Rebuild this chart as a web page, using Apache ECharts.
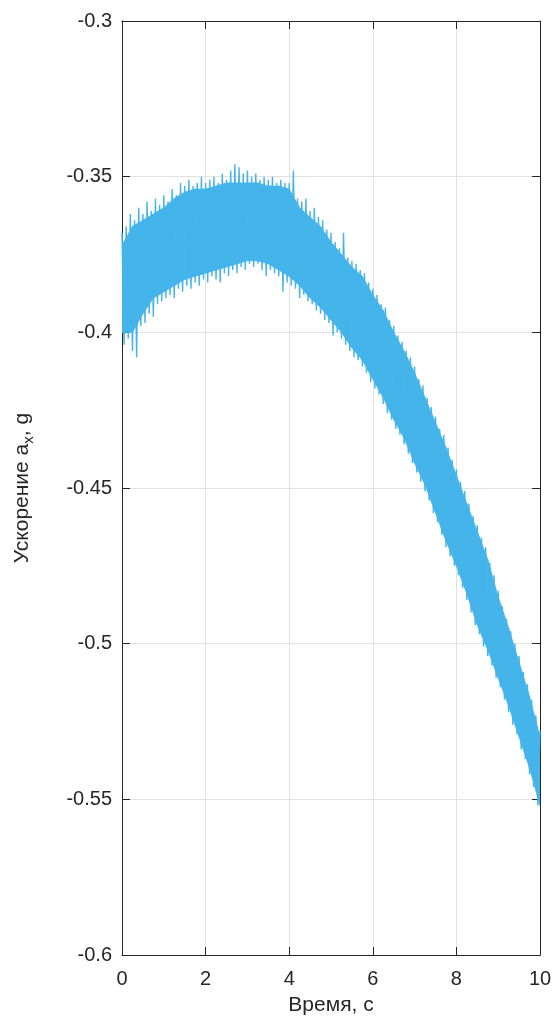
<!DOCTYPE html>
<html>
<head>
<meta charset="utf-8">
<script src="https://cdn.jsdelivr.net/npm/echarts@6/dist/echarts.min.js"></script>
<style>
  html, body { margin: 0; padding: 0; background: #fff; }
  #chart { width: 559px; height: 1029px; }
</style>
</head>
<body>
<div id="chart"></div>
<script>
// ось X: время, с ; ось Y: ускорение a_x, g
var xTicks = [0, 2, 4, 6, 8, 10];
var yTicks = [-0.6, -0.55, -0.5, -0.45, -0.4, -0.35, -0.3];

// огибающая "ядра" шумовой полосы, шаг 0.25 с
var envTime = [0, 0.25, 0.5, 0.75, 1, 1.25, 1.5, 1.75, 2, 2.25, 2.5, 2.75, 3, 3.25, 3.5, 3.75, 4,
  4.25, 4.5, 4.75, 5, 5.25, 5.5, 5.75, 6, 6.25, 6.5, 6.75, 7, 7.25, 7.5, 7.75, 8,
  8.25, 8.5, 8.75, 9, 9.25, 9.5, 9.75, 10];
var envUpper = [-0.372, -0.366, -0.364, -0.362, -0.360, -0.357, -0.355, -0.354, -0.354, -0.353,
  -0.352, -0.352, -0.352, -0.352, -0.353, -0.353, -0.354, -0.360, -0.363, -0.366, -0.371,
  -0.375, -0.379, -0.382, -0.388, -0.393, -0.400, -0.406, -0.413, -0.421, -0.429, -0.437,
  -0.446, -0.455, -0.464, -0.473, -0.485, -0.495, -0.506, -0.517, -0.530];
var envLower = [-0.400, -0.400, -0.394, -0.389, -0.387, -0.385, -0.383, -0.382, -0.381, -0.380,
  -0.379, -0.378, -0.377, -0.377, -0.378, -0.380, -0.382, -0.385, -0.389, -0.392, -0.396,
  -0.400, -0.405, -0.409, -0.415, -0.421, -0.428, -0.434, -0.442, -0.449, -0.458, -0.467,
  -0.475, -0.484, -0.494, -0.502, -0.511, -0.520, -0.530, -0.540, -0.552];

// выбросы сигнала: верхние пики (t = 0, 0.1 ... 10) и нижние (t = 0.05, 0.15 ... 9.95)
var peakTop = [-0.368, -0.366, -0.362, -0.364, -0.360, -0.362, -0.358, -0.361, -0.357, -0.359,
  -0.356, -0.358, -0.354, -0.356, -0.352, -0.353, -0.351, -0.353, -0.352, -0.350,
  -0.352, -0.351, -0.350, -0.352, -0.349, -0.351, -0.348, -0.346, -0.347, -0.349,
  -0.348, -0.350, -0.349, -0.351, -0.350, -0.351, -0.350, -0.352, -0.351, -0.352,
  -0.352, -0.348, -0.357, -0.358, -0.357, -0.361, -0.360, -0.363, -0.364, -0.367,
  -0.368, -0.371, -0.373, -0.368, -0.376, -0.377, -0.378, -0.380, -0.381, -0.384,
  -0.386, -0.388, -0.391, -0.392, -0.396, -0.398, -0.401, -0.403, -0.406, -0.408,
  -0.411, -0.415, -0.417, -0.421, -0.424, -0.427, -0.431, -0.433, -0.437, -0.441,
  -0.444, -0.448, -0.451, -0.455, -0.459, -0.462, -0.466, -0.469, -0.474, -0.478,
  -0.483, -0.488, -0.492, -0.496, -0.500, -0.504, -0.509, -0.513, -0.518, -0.523,
  -0.528];
var peakBottom = [-0.404, -0.402, -0.406, -0.408, -0.398, -0.397, -0.394, -0.395, -0.391, -0.390,
  -0.389, -0.388, -0.389, -0.386, -0.387, -0.385, -0.386, -0.384, -0.385, -0.383,
  -0.384, -0.382, -0.383, -0.384, -0.381, -0.382, -0.380, -0.381, -0.379, -0.380,
  -0.378, -0.379, -0.378, -0.380, -0.382, -0.380, -0.381, -0.382, -0.387, -0.384,
  -0.385, -0.386, -0.389, -0.388, -0.390, -0.391, -0.393, -0.394, -0.396, -0.397,
  -0.401, -0.400, -0.402, -0.404, -0.406, -0.408, -0.409, -0.411, -0.413, -0.416,
  -0.418, -0.420, -0.423, -0.426, -0.428, -0.431, -0.433, -0.436, -0.439, -0.442,
  -0.445, -0.448, -0.451, -0.454, -0.458, -0.461, -0.465, -0.469, -0.472, -0.475,
  -0.478, -0.482, -0.486, -0.490, -0.494, -0.497, -0.501, -0.504, -0.507, -0.511,
  -0.514, -0.518, -0.522, -0.526, -0.529, -0.534, -0.537, -0.542, -0.546, -0.552];

var lineColor = '#44B4EA';
var axisColor = '#262626';
var font = 'Liberation Sans, Arial, sans-serif';

// полоса: [t, верх, низ]
var bandData = envTime.map(function (t, i) { return [t, envUpper[i], envLower[i]]; });

// зигзаг: верхний пик, нижний пик, верхний пик ...
var noise = [];
for (var i = 0; i < peakTop.length; i++) {
  noise.push([i / 10, peakTop[i]]);
  if (i < peakBottom.length) noise.push([i / 10 + 0.05, peakBottom[i]]);
}

// кусок полосы между соседними точками огибающей
function renderBand(params, api) {
  var k = params.dataIndexInside;
  if (k >= params.dataInsideLength - 1) return;
  var p1 = api.coord([api.value(0, k), api.value(1, k)]);
  var p2 = api.coord([api.value(0, k + 1), api.value(1, k + 1)]);
  var p3 = api.coord([api.value(0, k + 1), api.value(2, k + 1)]);
  var p4 = api.coord([api.value(0, k), api.value(2, k)]);
  return {
    type: 'polygon',
    shape: { points: [p1, p2, p3, p4] },
    style: { fill: lineColor, stroke: lineColor, lineWidth: 0.8 }
  };
}

var myChart = echarts.init(document.getElementById('chart'));
var option = {
  animation: false,
  backgroundColor: '#fff',
  grid: { left: 122, right: 19, top: 21, bottom: 74, show: false },
  xAxis: [{
    type: 'value', min: 0, max: 10, interval: 2,
    name: 'Время, с', nameLocation: 'middle', nameGap: 40,
    nameTextStyle: { fontSize: 21, color: axisColor, fontFamily: font },
    axisLine: { show: true, onZero: false, lineStyle: { color: axisColor, width: 1 } },
    axisTick: { show: true, inside: true, length: 8, lineStyle: { color: axisColor } },
    axisLabel: { fontSize: 20, color: axisColor, fontFamily: font, margin: 14,
      formatter: function (v) { return xTicks.indexOf(v) >= 0 ? String(v) : ''; } },
    splitLine: { show: true, lineStyle: { color: '#e2e2e2', width: 1 } }
  }, {
    type: 'value', min: 0, max: 10, interval: 2, position: 'top',
    axisLine: { show: true, onZero: false, lineStyle: { color: axisColor, width: 1 } },
    axisTick: { show: true, inside: true, length: 8, lineStyle: { color: axisColor } },
    axisLabel: { show: false }, splitLine: { show: false }
  }],
  yAxis: [{
    type: 'value', min: -0.6, max: -0.3, interval: 0.05,
    name: '{a|Ускорение a}{b|x}{a|, g}', nameLocation: 'middle', nameGap: 86, nameRotate: 90,
    nameTextStyle: {
      color: axisColor, fontFamily: font,
      rich: {
        a: { fontSize: 21, color: axisColor, fontFamily: font, lineHeight: 28 },
        b: { fontSize: 15, color: axisColor, fontFamily: font, lineHeight: 14, verticalAlign: 'bottom' }
      }
    },
    axisLine: { show: true, onZero: false, lineStyle: { color: axisColor, width: 1 } },
    axisTick: { show: true, inside: true, length: 8, lineStyle: { color: axisColor } },
    axisLabel: { fontSize: 20, color: axisColor, fontFamily: font, margin: 10,
      formatter: function (v) { return String(+v.toFixed(2)); } },
    splitLine: { show: true, lineStyle: { color: '#e2e2e2', width: 1 } }
  }, {
    type: 'value', min: -0.6, max: -0.3, interval: 0.05, position: 'right',
    axisLine: { show: true, onZero: false, lineStyle: { color: axisColor, width: 1 } },
    axisTick: { show: true, inside: true, length: 8, lineStyle: { color: axisColor } },
    axisLabel: { show: false }, splitLine: { show: false }
  }],
  series: [{
    name: 'band', type: 'custom', data: bandData, renderItem: renderBand,
    encode: { x: 0, y: [1, 2] }, silent: true, clip: true
  }, {
    name: 'a_x', type: 'line', data: noise, symbol: 'none',
    lineStyle: { color: lineColor, width: 1.4 }
  }]
};
myChart.setOption(option);
</script>
</body>
</html>
